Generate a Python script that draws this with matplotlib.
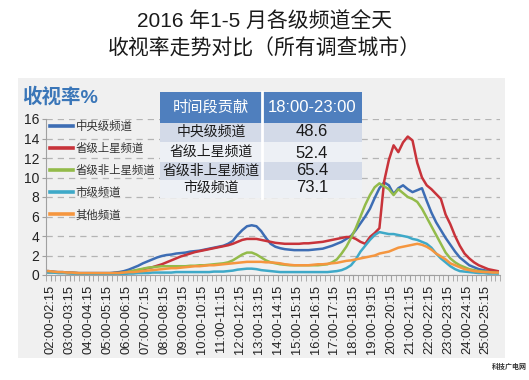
import matplotlib
matplotlib.use('Agg')
import matplotlib.pyplot as plt
from matplotlib.patches import Rectangle
import numpy as np

plt.rcParams['font.family'] = ['Liberation Sans', 'Noto Sans CJK SC', 'DejaVu Sans']

# hours 02:00 .. 25:45, one row per hour (xx:00, xx:15, xx:30, xx:45)
hours = list(range(2, 26))
time_labels = ['{:02d}:00-{:02d}:15'.format(h, h) for h in hours]

series_names = ['中央级频道', '省级上星频道', '省级非上星频道', '市级频道', '其他频道']
series_colors = ['#3d6db4', '#c8333a', '#93bb4a', '#3ea9c8', '#f5963f']

cctv = [0.4, 0.35, 0.3, 0.3,   0.25, 0.25, 0.2, 0.2,   0.2, 0.2, 0.2, 0.2,   0.2, 0.2, 0.25, 0.3,
        0.4, 0.55, 0.75, 0.95, 1.2, 1.4, 1.6, 1.8,    1.95, 2.05, 2.1, 2.2,  2.25, 2.3, 2.4, 2.45,
        2.5, 2.6, 2.7, 2.8,    2.9, 3.0, 3.2, 3.5,    4.1, 4.6, 5.0, 5.1,    5.0, 4.5, 3.8, 3.2,
        2.9, 2.75, 2.65, 2.6,  2.55, 2.55, 2.55, 2.55, 2.6, 2.65, 2.7, 2.85, 3.0, 3.2, 3.4, 3.7,
        4.0, 4.6, 5.3, 6.0,    6.8, 7.9, 8.9, 9.5,    9.2, 8.3, 8.9, 9.2,    8.8, 8.5, 8.7, 8.9,
        7.6, 6.4, 5.4, 4.6,    3.8, 3.1, 2.4, 1.8,    1.4, 1.0, 0.8, 0.6,    0.5, 0.4, 0.35, 0.3]

prov_sat = [0.3, 0.3, 0.25, 0.25,  0.2, 0.2, 0.2, 0.15,  0.15, 0.15, 0.15, 0.15, 0.15, 0.15, 0.2, 0.2,
            0.25, 0.3, 0.4, 0.5,   0.6, 0.7, 0.8, 0.95,  1.1, 1.3, 1.5, 1.7,     1.9, 2.05, 2.2, 2.35,
            2.45, 2.55, 2.65, 2.75, 2.85, 2.95, 3.05, 3.2, 3.4, 3.6, 3.7, 3.7,   3.7, 3.6, 3.5, 3.4,
            3.3, 3.25, 3.2, 3.2,   3.2, 3.2, 3.25, 3.25, 3.3, 3.35, 3.4, 3.5,    3.6, 3.7, 3.8, 3.9,
            3.9, 3.7, 3.4, 3.2,    3.9, 4.3, 4.8, 9.6,   11.8, 13.3, 12.6, 13.6, 14.2, 13.8, 11.5, 10.0,
            9.2, 8.8, 8.3, 7.8,    6.2, 5.2, 4.0, 3.0,   2.2, 1.7, 1.3, 1.0,     0.8, 0.6, 0.5, 0.4]

prov_other = [0.3, 0.3, 0.25, 0.25, 0.2, 0.2, 0.2, 0.15,  0.15, 0.15, 0.15, 0.15, 0.15, 0.15, 0.2, 0.2,
              0.25, 0.35, 0.45, 0.55, 0.65, 0.75, 0.8, 0.85, 0.9, 0.9, 0.9, 0.9,   0.9, 0.9, 0.95, 0.95,
              1.0, 1.0, 1.05, 1.1,  1.15, 1.2, 1.3, 1.5,    1.8, 2.1, 2.3, 2.3,    2.1, 1.8, 1.5, 1.3,
              1.2, 1.1, 1.05, 1.0,  1.0, 1.0, 1.0, 1.0,     1.0, 1.0, 1.05, 1.1,   1.3, 1.6, 2.2, 2.9,
              3.8, 4.8, 6.0, 7.2,   8.2, 9.0, 9.4, 9.1,     8.8, 8.2, 8.8, 8.4,    8.0, 7.8, 7.5, 6.8,
              5.9, 5.0, 4.1, 3.2,   2.3, 1.7, 1.3, 1.0,     0.8, 0.6, 0.5, 0.4,    0.35, 0.3, 0.25, 0.2]

city = [0.25, 0.25, 0.2, 0.2,  0.2, 0.15, 0.15, 0.15,  0.1, 0.1, 0.1, 0.1,     0.1, 0.1, 0.1, 0.1,
        0.1, 0.15, 0.15, 0.2,  0.2, 0.2, 0.25, 0.25,   0.25, 0.25, 0.25, 0.3,  0.3, 0.3, 0.3, 0.3,
        0.3, 0.3, 0.3, 0.35,   0.35, 0.35, 0.4, 0.45,  0.55, 0.6, 0.65, 0.65,  0.6, 0.5, 0.45, 0.4,
        0.35, 0.3, 0.3, 0.3,   0.3, 0.3, 0.3, 0.3,     0.3, 0.3, 0.3, 0.3,     0.35, 0.4, 0.5, 0.7,
        1.0, 1.6, 2.4, 3.0,    3.6, 4.1, 4.4, 4.3,     4.2, 4.2, 4.1, 4.0,     3.9, 3.7, 3.6, 3.4,
        3.2, 2.8, 2.2, 1.7,    1.3, 0.9, 0.6, 0.4,     0.35, 0.3, 0.25, 0.2,   0.2, 0.15, 0.15, 0.15]

others = [0.4, 0.35, 0.3, 0.3,   0.25, 0.25, 0.2, 0.2,   0.2, 0.2, 0.2, 0.2,     0.2, 0.2, 0.2, 0.2,
          0.25, 0.3, 0.3, 0.35,  0.4, 0.45, 0.5, 0.55,   0.6, 0.65, 0.7, 0.7,    0.75, 0.8, 0.85, 0.9,
          0.9, 0.95, 1.0, 1.0,   1.05, 1.1, 1.15, 1.2,   1.25, 1.3, 1.35, 1.35,  1.35, 1.35, 1.3, 1.3,
          1.25, 1.2, 1.1, 1.05,  1.0, 1.0, 1.0, 1.0,     1.05, 1.1, 1.1, 1.15,   1.2, 1.25, 1.35, 1.45,
          1.5, 1.6, 1.7, 1.8,    1.9, 2.0, 2.2, 2.3,     2.4, 2.6, 2.8, 2.9,     3.0, 3.1, 3.2, 3.1,
          2.9, 2.6, 2.2, 1.9,    1.6, 1.2, 1.0, 0.8,     0.6, 0.5, 0.4, 0.35,    0.3, 0.3, 0.25, 0.25]

table_header = ['时间段贡献', '18:00-23:00']
table_rows = ['中央级频道', '省级上星频道', '省级非上星频道', '市级频道']
table_vals = ['48.6', '52.4', '65.4', '73.1']

W, H = 529, 380


def fx(x):
    return x / W


def fy(y):
    return 1 - y / H


fig = plt.figure(figsize=(W / 100, H / 100), dpi=100)
fig.patch.set_facecolor('white')

# gray backdrop
fig.add_artist(Rectangle((fx(18), fy(358)), (505 - 18) / W, (358 - 78) / H,
                         transform=fig.transFigure, facecolor='#f0f0f0',
                         edgecolor='none', zorder=-10))

fig.text(0.5, fy(22), '2016 年1-5 月各级频道全天', ha='center', va='center',
         fontsize=15, color='#1a1a1a')
fig.text(0.5, fy(49), '收视率走势对比（所有调查城市）', ha='center', va='center',
         fontsize=15, color='#1a1a1a')
fig.text(fx(22), fy(97), '收视率%', ha='left', va='center', fontsize=14,
         fontweight='bold', color='#3a76b8')

ax = fig.add_axes([fx(46), fy(275), (500 - 46) / W, (275 - 119) / H])
ax.set_facecolor('none')

x = np.arange(len(cctv))
all_series = [cctv, prov_sat, prov_other, city, others]
lines = []
for vals, name, col in zip(all_series, series_names, series_colors):
    ln, = ax.plot(x, vals, color=col, lw=1.8, label=name, solid_joinstyle='round')
    lines.append(ln)

ax.set_xlim(-0.5, len(cctv) - 0.5)
ax.set_ylim(0, 16)
ax.set_yticks(np.arange(0, 17, 2))
ax.yaxis.grid(True, color='#b4b4b4', linestyle=(0, (5, 4)), lw=0.9)
ax.set_axisbelow(True)

ax.set_xticks(np.arange(0, len(cctv), 4) + 0.5)
ax.set_xticklabels(time_labels, rotation=90, fontsize=9.3, color='#222222')
ax.set_xticks(np.arange(len(cctv) + 1) - 0.5, minor=True)
ax.tick_params(axis='x', which='both', direction='out', length=4, color='#a0a0a0', pad=3)
ax.tick_params(axis='y', direction='out', length=3, color='#a0a0a0', labelsize=10,
               labelcolor='#222222', pad=2)

for s in ['top', 'right']:
    ax.spines[s].set_visible(False)
for s in ['left', 'bottom']:
    ax.spines[s].set_color('#a0a0a0')

leg = ax.legend(handles=lines, loc='upper left', bbox_to_anchor=(fx(50), fy(121)),
                bbox_transform=fig.transFigure, frameon=False, fontsize=8.2,
                handlelength=2.0, handletextpad=0.25, labelspacing=0.95,
                borderpad=0, borderaxespad=0)
for t in leg.get_texts():
    t.set_color('#333333')
for h in leg.legend_handles:
    h.set_linewidth(2.6)

# contribution table drawn over the plot
tx0, tx1, tmid = 160, 362, 262
fig.add_artist(Rectangle((fx(tx0), fy(123)), (tx1 - tx0) / W, (123 - 92) / H,
                         transform=fig.transFigure, facecolor='#4f7fbe',
                         edgecolor='none', zorder=5))
row_edges = [123, 142, 162, 180, 198]
row_cols = ['#d3dae8', '#edf0f5', '#d3dae8', '#edf0f5']
for i in range(4):
    fig.add_artist(Rectangle((fx(tx0), fy(row_edges[i + 1])), (tx1 - tx0) / W,
                             (row_edges[i + 1] - row_edges[i]) / H,
                             transform=fig.transFigure, facecolor=row_cols[i],
                             edgecolor='none', zorder=5))
fig.add_artist(plt.Line2D([fx(tmid), fx(tmid)], [fy(92), fy(198)],
                          transform=fig.transFigure, color='white', lw=2, zorder=6))

fig.text(fx(211), fy(108), table_header[0], ha='center', va='center', fontsize=11,
         color='white', zorder=7)
fig.text(fx(312), fy(108), table_header[1], ha='center', va='center', fontsize=12,
         color='white', zorder=7)
row_y = [132, 152, 171, 188]
val_y = [132, 154, 171, 188]
for name, val, yr, yv in zip(table_rows, table_vals, row_y, val_y):
    fig.text(fx(211), fy(yr), name, ha='center', va='center', fontsize=10,
             color='#1a1a1a', zorder=7)
    fig.text(fx(312), fy(yv), val, ha='center', va='center', fontsize=12,
             color='#1a1a1a', zorder=7)

fig.text(fx(527), fy(367), '科技广电网', ha='right', va='center', fontsize=5,
         color='#333333', fontweight='bold')

fig.savefig('out.png', dpi=100)
